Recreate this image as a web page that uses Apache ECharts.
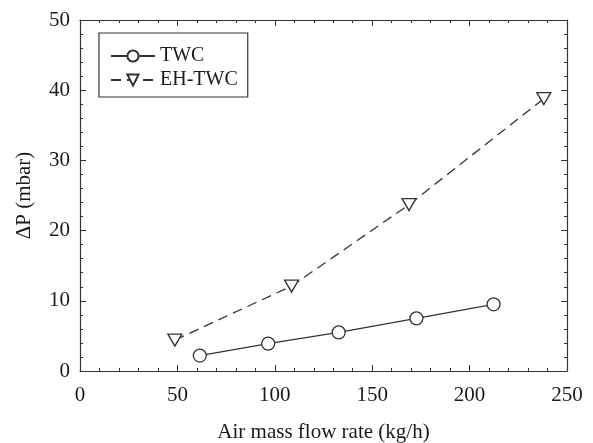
<!DOCTYPE html>
<html>
<head>
<meta charset="utf-8">
<script src="https://cdn.jsdelivr.net/npm/echarts@6/dist/echarts.min.js"></script>
<style>
html, body { margin: 0; padding: 0; background: #fff; }
#chart { width: 593px; height: 443px; }
</style>
</head>
<body>
<div id="chart"></div>
<script>
// values
let twcX = [61.5, 96.6, 132.8, 172.7, 212.3];
let twcY = [2.2, 3.9, 5.5, 7.5, 9.5];
let ehX = [48.7, 108.6, 168.9, 238.1];
let ehY = [4.4, 12.1, 23.7, 38.8];

let font = 'Liberation Serif';
let ink = '#333';
let txt = '#1a1a1a';

function pairs(xs, ys) {
    return xs.map((x, i) => [x, ys[i]]);
}

let myChart = echarts.init(document.getElementById('chart'));

let baseX = {
    type: 'value', min: 0, max: 250, interval: 50,
    axisLine: { show: true, onZero: false, lineStyle: { color: ink, width: 1.2 } },
    axisTick: { show: true, inside: true, length: 6, lineStyle: { color: ink } },
    minorTick: { show: true, splitNumber: 5, length: 3, lineStyle: { color: ink } },
    splitLine: { show: false }
};
let baseY = {
    type: 'value', min: 0, max: 50, interval: 10,
    axisLine: { show: true, onZero: false, lineStyle: { color: ink, width: 1.2 } },
    axisTick: { show: true, inside: true, length: 6, lineStyle: { color: ink } },
    minorTick: { show: true, splitNumber: 5, length: 3, lineStyle: { color: ink } },
    splitLine: { show: false }
};

let option = {
    animation: false,
    backgroundColor: '#fff',
    textStyle: { fontFamily: font },
    grid: { left: 80, right: 26, top: 20, bottom: 72, containLabel: false, outerBoundsMode: 'none' },
    legend: {
        left: 99, top: 33, orient: 'vertical',
        padding: [13, 10, 7, 11],
        itemGap: 4,
        itemWidth: 44, itemHeight: 14,
        borderColor: ink, borderWidth: 1.2,
        textStyle: { fontFamily: font, fontSize: 20, color: txt },
        data: ['TWC', 'EH-TWC']
    },
    xAxis: [
        Object.assign({}, baseX, {
            position: 'bottom',
            name: 'Air mass flow rate (kg/h)', nameLocation: 'middle', nameGap: 51,
            nameTextStyle: { fontFamily: font, fontSize: 21, color: txt },
            axisLabel: { fontFamily: font, fontSize: 21, color: txt, margin: 14 }
        }),
        Object.assign({}, baseX, { position: 'top', axisLabel: { show: false } })
    ],
    yAxis: [
        Object.assign({}, baseY, {
            position: 'left',
            name: 'ΔP (mbar)', nameLocation: 'middle', nameGap: 45,
            nameTextStyle: { fontFamily: font, fontSize: 21, color: txt },
            axisLabel: { fontFamily: font, fontSize: 21, color: txt, margin: 10 }
        }),
        Object.assign({}, baseY, { position: 'right', axisLabel: { show: false } })
    ],
    series: [
        {
            name: 'TWC', type: 'line',
            data: pairs(twcX, twcY),
            symbol: 'circle', symbolSize: 13,
            lineStyle: { color: ink, width: 1.3, type: 'solid' },
            itemStyle: { color: '#fff', borderColor: ink, borderWidth: 1.3 }
        },
        {
            name: 'EH-TWC', type: 'line',
            data: pairs(ehX, ehY),
            symbol: 'path://M0,0 L10,0 L5,9 Z', symbolSize: [14, 12],
            lineStyle: { color: ink, width: 1.3, type: [10, 6] },
            itemStyle: { color: '#fff', borderColor: ink, borderWidth: 1.3 }
        }
    ]
};

myChart.setOption(option);
</script>
</body>
</html>
